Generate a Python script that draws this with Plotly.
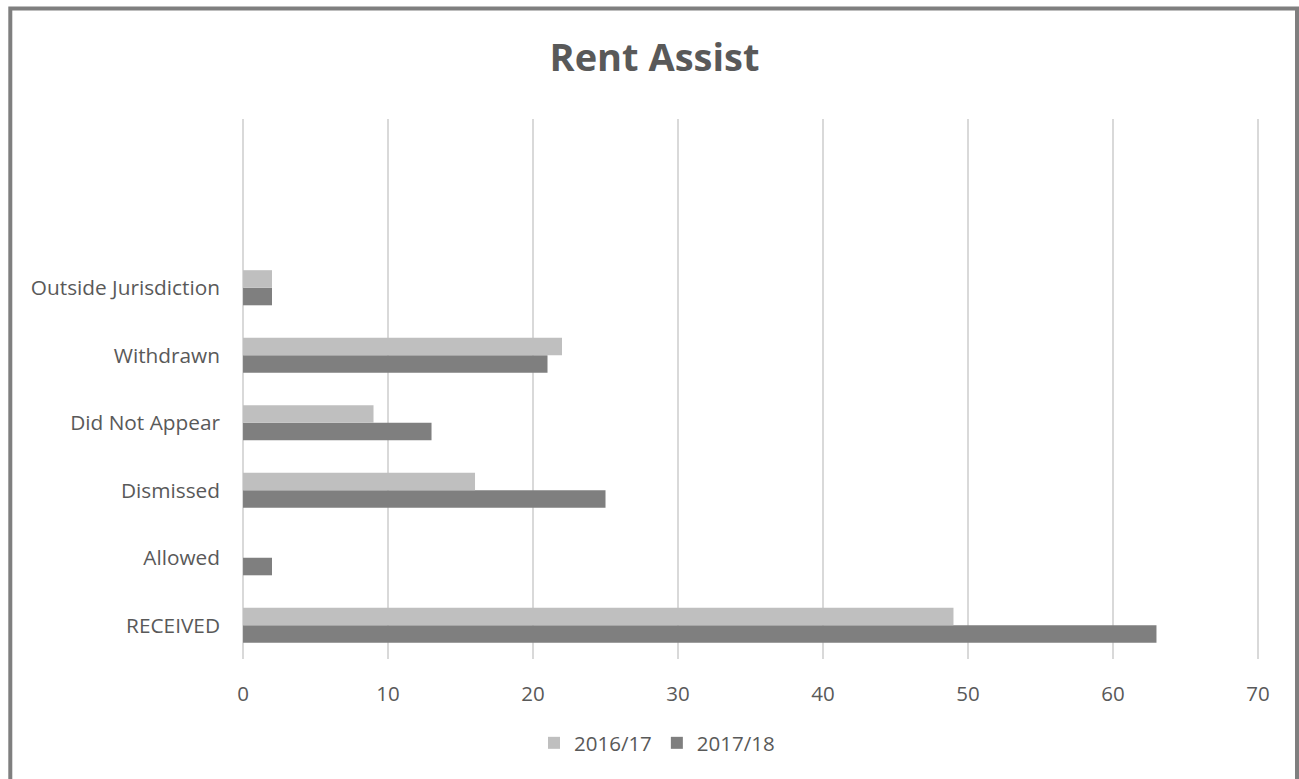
import plotly.graph_objects as go

categories = ["RECEIVED", "Allowed", "Dismissed", "Did Not Appear", "Withdrawn", "Outside Jurisdiction"]
series_names = ["2016/17", "2017/18"]
values_2016_17 = [49, 0, 16, 9, 22, 2]
values_2017_18 = [63, 2, 25, 13, 21, 2]
x_ticks = [0, 10, 20, 30, 40, 50, 60, 70]

W, H = 1299, 779
ML, MR, MT, MB = 241, 39, 119, 120
PW, PH = W - ML - MR, H - MT - MB

def px_x(x):
    return (x - ML) / PW

def px_y(y):
    return (H - MB - y) / PH

TEXT = "#595959"
FONT = "Open Sans"

fig = go.Figure()
# add 2017/18 first so that 2016/17 sits above it within each group
fig.add_trace(go.Bar(y=categories, x=values_2017_18, name=series_names[1], orientation="h",
                     marker=dict(color="#7F7F7F", line=dict(width=0))))
fig.add_trace(go.Bar(y=categories, x=values_2016_17, name=series_names[0], orientation="h",
                     marker=dict(color="#BFBFBF", line=dict(width=0))))

fig.update_layout(
    width=W, height=H, autosize=False,
    margin=dict(l=ML, r=MR, t=MT, b=MB, pad=0),
    paper_bgcolor="white", plot_bgcolor="white",
    barmode="group", bargap=0.48, bargroupgap=0,
    font=dict(family=FONT, color=TEXT, size=20),
    title=dict(text="<b>Rent Assist</b>", x=654.5 / W, xref="container", xanchor="center",
               y=1 - 58 / H, yref="container", yanchor="middle",
               font=dict(family=FONT, size=38, color=TEXT)),
    legend=dict(orientation="h", traceorder="reversed", x=657 / W, xref="container", xanchor="center",
                y=1 - 743 / H, yref="container", yanchor="middle",
                font=dict(family=FONT, size=20.5, color=TEXT), itemwidth=30),
    showlegend=True,
    xaxis=dict(range=[-0.14, 70.14], tickvals=x_ticks, showgrid=True, gridcolor="#D9D9D9", gridwidth=1.5,
               zeroline=True, zerolinecolor="#D9D9D9", zerolinewidth=1.5,
               showline=False, ticks="", ticklabelstandoff=20,
               tickfont=dict(family=FONT, size=20.5, color=TEXT), fixedrange=True),
    yaxis=dict(type="category", categoryorder="array", categoryarray=categories,
               range=[-0.5, 7.5], autorange=False, showgrid=False, zeroline=False, showline=False,
               ticks="", ticklabelstandoff=20, tickfont=dict(family=FONT, size=20.8, color=TEXT), fixedrange=True),
    shapes=[dict(type="rect", xref="paper", yref="paper", layer="below",
                 x0=px_x(10.3), x1=px_x(1297), y0=px_y(810), y1=px_y(8.5),
                 line=dict(color="#7F7F7F", width=4), fillcolor="rgba(0,0,0,0)")],
)

fig.write_html("out.html", config={"displayModeBar": False},
               post_script="document.body.style.margin='0';document.body.style.overflow='hidden';")
